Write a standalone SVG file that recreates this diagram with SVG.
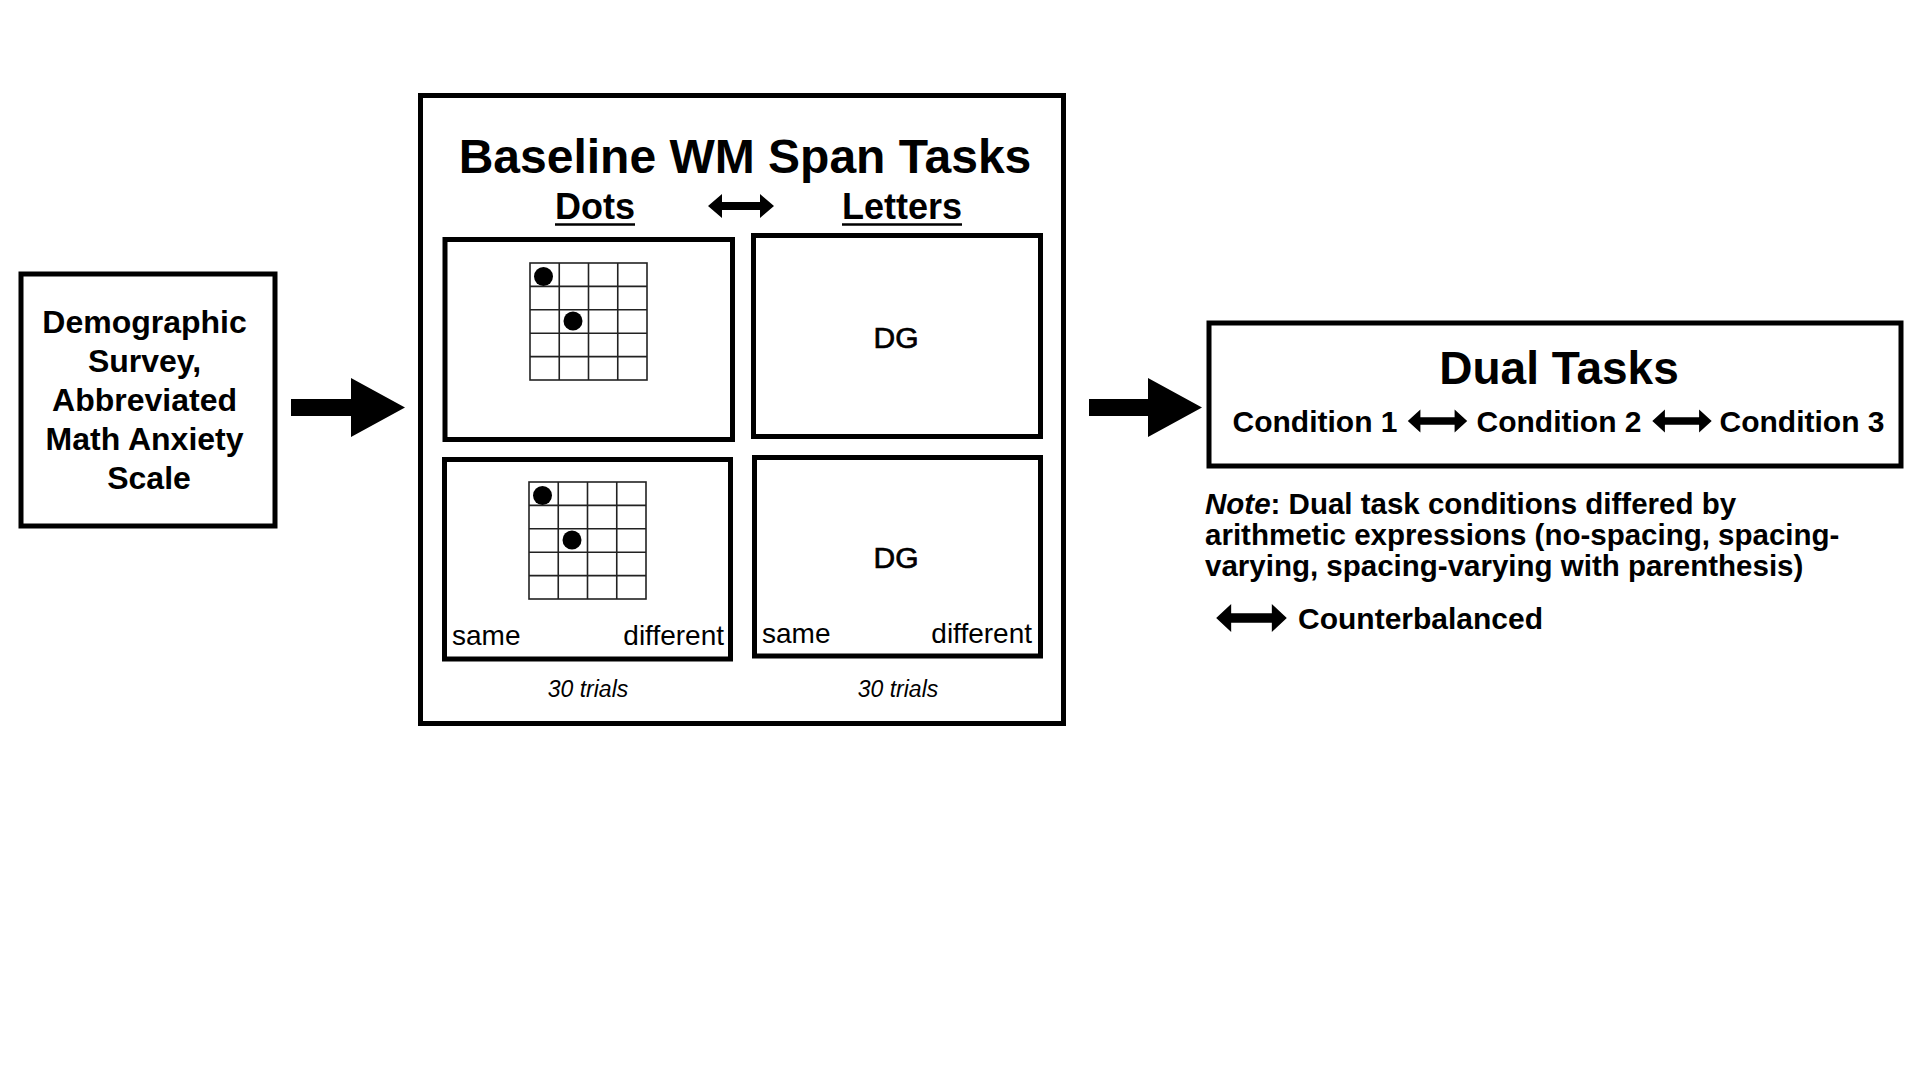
<svg xmlns="http://www.w3.org/2000/svg" xmlns:xlink="http://www.w3.org/1999/xlink" width="1920" height="1080" viewBox="0 0 1920 1080">
<style>
  text { font-family: "Liberation Sans", Arial, Helvetica, sans-serif; fill: #000; }
  .box { fill: #fff; stroke: #000; stroke-width: 5; }
  .b { font-weight: bold; }
  .med { stroke: #000; stroke-width: 0.7; }
  .grid { fill: none; stroke: #222; stroke-width: 1.6; }
  .ul { stroke: #000; stroke-width: 2.5; }
</style>
<defs>
  <path id="dbl" d="M-33,0 L-19,-12 L-19,-4 L19,-4 L19,-12 L33,0 L19,12 L19,4 L-19,4 L-19,12 Z" fill="#000"/>
  <g id="gridA">
    <rect class="grid" x="0" y="0" width="117" height="117"/>
    <path class="grid" d="M29.25,0 V117 M58.5,0 V117 M87.75,0 V117 M0,23.4 H117 M0,46.8 H117 M0,70.2 H117 M0,93.6 H117"/>
    <circle cx="13.5" cy="13.5" r="9.5" fill="#000"/>
    <circle cx="43" cy="58" r="9.5" fill="#000"/>
  </g>
</defs>
<rect width="1920" height="1080" fill="#fff"/>

<g id="demographic">
  <rect class="box" x="21" y="274" width="254" height="252" stroke-width="4.5"/>
  <text class="b" font-size="32" text-anchor="middle">
    <tspan x="149" y="333">Demographic</tspan>
    <tspan x="149" y="372">Survey,</tspan>
    <tspan x="149" y="411">Abbreviated</tspan>
    <tspan x="149" y="450">Math Anxiety</tspan>
    <tspan x="149" y="489">Scale</tspan>
  </text>
</g>

<g id="baseline">
  <rect class="box" x="420.5" y="95.5" width="643" height="628"/>
  <text class="b" x="745" y="173" font-size="48" text-anchor="middle">Baseline WM Span Tasks</text>
  <text class="b" x="595" y="219" font-size="36" text-anchor="middle">Dots</text>
  <line class="ul" x1="555" y1="224.5" x2="635" y2="224.5"/>
  <use xlink:href="#dbl" transform="translate(741,206)"/>
  <text class="b" x="902" y="219" font-size="36" text-anchor="middle">Letters</text>
  <line class="ul" x1="842" y1="224.5" x2="962" y2="224.5"/>

  <g id="dots-1">
    <rect class="box" x="445" y="239.5" width="287.5" height="200"/>
    <use xlink:href="#gridA" transform="translate(530,263)"/>
  </g>
  <g id="letters-1">
    <rect class="box" x="753.5" y="235.5" width="287" height="201"/>
    <text class="med" x="896" y="348" font-size="30" text-anchor="middle">DG</text>
  </g>
  <g id="dots-2">
    <rect class="box" x="444.5" y="459.5" width="286" height="199.5"/>
    <use xlink:href="#gridA" transform="translate(529,482)"/>
    <text x="452" y="645" font-size="28">same</text>
    <text x="724" y="645" font-size="28" text-anchor="end">different</text>
  </g>
  <g id="letters-2">
    <rect class="box" x="754.5" y="457.5" width="286" height="198.5"/>
    <text class="med" x="896" y="568" font-size="30" text-anchor="middle">DG</text>
    <text x="762" y="643" font-size="28">same</text>
    <text x="1032" y="643" font-size="28" text-anchor="end">different</text>
  </g>
  <text x="588" y="697" font-size="23" font-style="italic" text-anchor="middle">30 trials</text>
  <text x="898" y="697" font-size="23" font-style="italic" text-anchor="middle">30 trials</text>
</g>

<g id="dual">
  <rect class="box" x="1209" y="323" width="692" height="143" stroke-width="4.5"/>
  <text class="b" x="1559" y="384" font-size="46" text-anchor="middle">Dual Tasks</text>
  <text class="b" x="1315" y="432" font-size="30" text-anchor="middle">Condition 1</text>
  <use xlink:href="#dbl" transform="translate(1437.5,421) scale(0.9,0.95)"/>
  <text class="b" x="1559" y="432" font-size="30" text-anchor="middle">Condition 2</text>
  <use xlink:href="#dbl" transform="translate(1682,421) scale(0.9,0.95)"/>
  <text class="b" x="1802" y="432" font-size="30" text-anchor="middle">Condition 3</text>
</g>

<g id="note">
  <text class="b" font-size="29.5">
    <tspan x="1205" y="514"><tspan font-style="italic">Note</tspan>: Dual task conditions differed by</tspan>
    <tspan x="1205" y="545">arithmetic expressions (no-spacing, spacing-</tspan>
    <tspan x="1205" y="576">varying, spacing-varying with parenthesis)</tspan>
  </text>
  <use xlink:href="#dbl" transform="translate(1251.5,618) scale(1.07,1.17)"/>
  <text class="b" x="1298" y="629" font-size="30">Counterbalanced</text>
</g>

<g id="connectors">
  <path d="M291,399 H351 V378 L405,407.5 L351,437 V416 H291 Z" fill="#000"/>
  <path d="M1089,399 H1148 V378 L1202,407.5 L1148,437 V416 H1089 Z" fill="#000"/>
</g>
</svg>
